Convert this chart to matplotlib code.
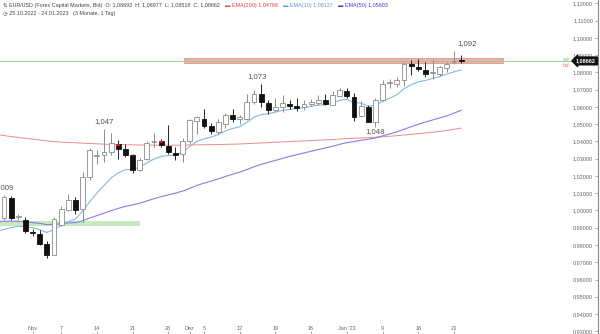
import numpy as np
import matplotlib
matplotlib.use("Agg")
import matplotlib.pyplot as plt
from matplotlib.ticker import FixedLocator, FuncFormatter

plt.rcParams['font.family'] = ['Liberation Sans', 'DejaVu Sans']

# daily candles 25.10.2022 - 24.01.2023 (trading days only)
opens = [0.9876, 0.9958, 1.0075, 0.9962, 0.9947, 0.9877, 0.9862, 0.9804, 0.9744, 0.9914,
         1.0005, 1.0063, 1.0010, 1.0194, 1.0318, 1.0319, 1.0338, 1.0387, 1.0354, 1.0319,
         1.0232, 1.0300, 1.0397, 1.0400, 1.0371, 1.0335, 1.0325, 1.0400, 1.0518, 1.0532,
         1.0487, 1.0454, 1.0503, 1.0551, 1.0532, 1.0532, 1.0628, 1.0677, 1.0622, 1.0584,
         1.0600, 1.0619, 1.0605, 1.0599, 1.0615, 1.0622, 1.0638, 1.0612, 1.0665, 1.0690,
         1.0657, 1.0545, 1.0599, 1.0512, 1.0638, 1.0738, 1.0735, 1.0758, 1.0847, 1.0829,
         1.0816, 1.0795, 1.0789, 1.0825, 1.0860, 1.08693]
highs = [0.9976, 1.0088, 1.0085, 0.9978, 0.9962, 0.9895, 0.9885, 0.9823, 0.9962, 1.0024,
         1.0093, 1.0078, 1.0223, 1.0362, 1.0348, 1.0474, 1.0447, 1.0406, 1.0387, 1.0329,
         1.0306, 1.0400, 1.0450, 1.0416, 1.0497, 1.0370, 1.0418, 1.0532, 1.0545, 1.0590,
         1.0505, 1.0530, 1.0565, 1.0590, 1.0555, 1.0677, 1.0695, 1.0731, 1.0640, 1.0650,
         1.0666, 1.0637, 1.0654, 1.0640, 1.0645, 1.0670, 1.0672, 1.0690, 1.0712, 1.0710,
         1.0680, 1.0635, 1.0610, 1.0650, 1.0758, 1.0760, 1.0775, 1.0860, 1.0870, 1.0875,
         1.0860, 1.0873, 1.0835, 1.0860, 1.0924, 1.08977]
lows = [0.9851, 0.9945, 0.9947, 0.9943, 0.9869, 0.9850, 0.9798, 0.9727, 0.9740, 0.9908,
        0.9997, 0.9978, 0.9935, 1.0175, 1.0271, 1.0281, 1.0319, 1.0300, 1.0310, 1.0217,
        1.0226, 1.0290, 1.0365, 1.0368, 1.0325, 1.0290, 1.0281, 1.0387, 1.0444, 1.0480,
        1.0443, 1.0445, 1.0480, 1.0510, 1.0500, 1.0525, 1.0618, 1.0600, 1.0560, 1.0571,
        1.0570, 1.0590, 1.0576, 1.0580, 1.0605, 1.0610, 1.0610, 1.0608, 1.0656, 1.0650,
        1.0520, 1.0540, 1.0512, 1.0482, 1.0635, 1.0710, 1.0715, 1.0720, 1.0783, 1.0810,
        1.0773, 1.0764, 1.0780, 1.0802, 1.0850, 1.08518]
closes = [0.9963, 1.0078, 0.9955, 0.9966, 0.9879, 0.9869, 0.9808, 0.9744, 0.9949, 1.0010,
          1.0063, 1.0005, 1.0195, 1.0348, 1.0322, 1.0339, 1.0390, 1.0358, 1.0319, 1.0232,
          1.0294, 1.0391, 1.0405, 1.0381, 1.0338, 1.0319, 1.0400, 1.0522, 1.0541, 1.0487,
          1.0460, 1.0512, 1.0551, 1.0532, 1.0540, 1.0628, 1.0677, 1.0628, 1.0584, 1.0599,
          1.0622, 1.0607, 1.0595, 1.0619, 1.0628, 1.0642, 1.0615, 1.0667, 1.0696, 1.0663,
          1.0541, 1.0605, 1.0512, 1.0638, 1.0735, 1.0743, 1.0758, 1.0851, 1.0835, 1.0820,
          1.0793, 1.0800, 1.0831, 1.0851, 1.0866, 1.08662]
flagged = [17, 23]  # candles marked red

ema200 = [1.0440, 1.0434, 1.0428, 1.0423, 1.0418, 1.0413, 1.0408, 1.0403, 1.0399, 1.0396,
          1.0394, 1.0392, 1.0390, 1.0388, 1.0386, 1.0384, 1.0383, 1.0382, 1.0381, 1.0380,
          1.0379, 1.0379, 1.0378, 1.0378, 1.0378, 1.0378, 1.0378, 1.0379, 1.0380, 1.0381,
          1.0381, 1.0382, 1.0383, 1.0384, 1.0385, 1.0387, 1.0389, 1.0391, 1.0393, 1.0395,
          1.0397, 1.0399, 1.0401, 1.0403, 1.0405, 1.0407, 1.0409, 1.0411, 1.0414, 1.0416,
          1.0418, 1.0420, 1.0422, 1.0424, 1.0427, 1.0430, 1.0433, 1.0437, 1.0441, 1.0445,
          1.0449, 1.0453, 1.0458, 1.0463, 1.0470, 1.0477]
ema10 = [0.9880, 0.9890, 0.9900, 0.9908, 0.9905, 0.9900, 0.9888, 0.9873, 0.9888, 0.9912,
         0.9936, 0.9950, 0.9995, 1.0050, 1.0100, 1.0145, 1.0188, 1.0218, 1.0236, 1.0238,
         1.0250, 1.0275, 1.0298, 1.0313, 1.0318, 1.0320, 1.0337, 1.0370, 1.0400, 1.0415,
         1.0425, 1.0440, 1.0460, 1.0475, 1.0485, 1.0510, 1.0540, 1.0555, 1.0560, 1.0570,
         1.0580, 1.0585, 1.0590, 1.0596, 1.0603, 1.0610, 1.0612, 1.0622, 1.0638, 1.0643,
         1.0625, 1.0622, 1.0603, 1.0610, 1.0632, 1.0650, 1.0670, 1.0705, 1.0728, 1.0745,
         1.0753, 1.0765, 1.0775, 1.0790, 1.0803, 1.0814]
ema50 = [0.9935, 0.9937, 0.9938, 0.9937, 0.9934, 0.9930, 0.9925, 0.9918, 0.9920, 0.9923,
         0.9928, 0.9930, 0.9940, 0.9956, 0.9970, 0.9984, 0.9999, 1.0012, 1.0024, 1.0032,
         1.0042, 1.0055, 1.0068, 1.0080, 1.0090, 1.0100, 1.0112, 1.0128, 1.0145, 1.0158,
         1.0170, 1.0183, 1.0197, 1.0210, 1.0222, 1.0237, 1.0253, 1.0267, 1.0279, 1.0290,
         1.0302, 1.0313, 1.0323, 1.0333, 1.0343, 1.0353, 1.0362, 1.0372, 1.0383, 1.0393,
         1.0399, 1.0407, 1.0412, 1.0420, 1.0432, 1.0443, 1.0455, 1.0470, 1.0485, 1.0499,
         1.0512, 1.0524, 1.0536, 1.0548, 1.0564, 1.0580]

tick_pos = [5, 9, 14, 19, 24, 27, 29, 34, 39, 44, 49, 54, 59, 64]
tick_labels = ['Nov', '7', '14', '21', '28', 'Dez', '5', '12', '19', '26',
               "Jan '23", '9', '16', '23']
y_ticks = [0.93, 0.94, 0.95, 0.96, 0.97, 0.98, 0.99, 1.00, 1.01, 1.02,
           1.03, 1.04, 1.05, 1.06, 1.07, 1.08, 1.09, 1.10, 1.11, 1.12]

# swing labels: candle index, text, at high or low, x shift in px
swings = [(1, '1,009', 'high', 0), (15, '1,047', 'high', 0), (37, '1,073', 'high', -4),
          (53, '1,048', 'low', 0), (64, '1,092', 'high', 13)]

resist_zone = (1.0856, 1.0886, 26.2, 70.8)
support_zone = (0.9908, 0.9939, 0.0, 20.1)
ask_price = 1.08675
last_price = 1.08662

header_parts = [('\u21c5 EUR/USD (Forex Capital Markets, Bid)  O: 1,08693  H: 1,08977  '
                 'L: 1,08518  C: 1,08662', '#444444'),
                ('\u25ac EMA(200) 1,04768', '#e0453f'),
                ('\u25ac EMA(10) 1,08137', '#5b9bd5'),
                ('\u25ac EMA(50) 1,05803', '#3f3fc0')]

fig = plt.figure(figsize=(6, 3.34), dpi=100)
ax = fig.add_axes([0, 0, 598 / 600, 1])
ax.set_xlim(0.45, 84.16)
ax.set_ylim(0.92844, 1.12191)

x = np.arange(len(closes))
o = np.array(opens)
c = np.array(closes)
up = c >= o

# zones
ax.fill_between([resist_zone[2], resist_zone[3]], resist_zone[0], resist_zone[1],
                color='#eda29c', alpha=0.85, lw=0.6, edgecolor='#dc8c86', zorder=1)
ax.fill_between([support_zone[2], support_zone[3]], support_zone[0], support_zone[1],
                color='#bfe8b8', alpha=0.9, lw=0, zorder=1)
ax.axhline(ask_price, xmax=0.958, color='#98d08c', lw=0.7, zorder=1)

# moving averages
ax.plot(x, ema200, color='#f08a8a', lw=0.7, zorder=2)
ax.plot(x, ema50, color='#8a7be6', lw=0.8, zorder=2)
ax.plot(x, ema10, color='#86b8e4', lw=0.8, zorder=2)

# candles
wick_col = np.where(up, '#8c8c8c', '#222222')
ax.vlines(x, lows, highs, colors=wick_col, lw=0.7, zorder=3)
ax.bar(x[up], c[up] - o[up], bottom=o[up], width=0.68,
       color='white', edgecolor='#8c8c8c', lw=0.6, zorder=4)
ax.bar(x[~up], o[~up] - c[~up], bottom=c[~up], width=0.68,
       color='#111111', edgecolor='#111111', lw=0.6, zorder=4)
for i in flagged:
    ax.bar(i, (o[i] - c[i]) * 0.5, bottom=c[i] + (o[i] - c[i]) * 0.5, width=0.5,
           color='#d21c1c', lw=0, zorder=5)

# swing labels
for i, txt, side, dx in swings:
    if side == 'high':
        ax.annotate(txt, (i, highs[i]), xytext=(dx, 4), textcoords='offset pixels',
                    ha='center', va='bottom', fontsize=5.6, color='#555555')
    else:
        ax.annotate(txt, (i, lows[i]), xytext=(dx, -1), textcoords='offset pixels',
                    ha='center', va='top', fontsize=5.6, color='#555555')

# axes styling
for s in ['top', 'left', 'bottom']:
    ax.spines[s].set_visible(False)
ax.spines['right'].set_color('#8a8a8a')
ax.spines['right'].set_linewidth(0.8)

ax.yaxis.tick_right()
ax.yaxis.set_major_locator(FixedLocator(y_ticks))
ax.yaxis.set_major_formatter(FuncFormatter(lambda v, p: f'{v:.5f}'.replace('.', ',')))
ax.tick_params(axis='y', direction='in', length=2, width=0.5, color='#888888',
               pad=-3.6, labelsize=4, labelcolor='#666666')
for lab in ax.get_yticklabels():
    lab.set_ha('right')

ax.xaxis.set_major_locator(FixedLocator(tick_pos))
ax.set_xticklabels(tick_labels)
ax.tick_params(axis='x', direction='in', length=2, width=0.5, color='#888888',
               pad=-5.4, labelsize=4, labelcolor='#666666')

# last price tag + ask/bid
ax.text(0.9635, last_price, '1,08662', transform=ax.get_yaxis_transform(),
        ha='left', va='center', fontsize=4, color='white', fontweight='bold',
        bbox=dict(boxstyle='larrow,pad=0.25', fc='#111111', ec='#111111'),
        zorder=10, clip_on=False)
ax.text(0.947, 1.0876, 'ask', transform=ax.get_yaxis_transform(), ha='center',
        va='center', fontsize=3.4, color='#7cc070')
ax.text(0.947, 1.0838, 'bid', transform=ax.get_yaxis_transform(), ha='center',
        va='center', fontsize=3.4, color='#e07070')

# header, pieces placed one after another
renderer = fig.canvas.get_renderer()
hx = 3
for txt, col in header_parts:
    t = fig.text(hx / 600, 1 - 6 / 334, txt, fontsize=3.9, color=col, va='center')
    hx = t.get_window_extent(renderer).x1 + 5
fig.text(3 / 600, 1 - 14 / 334, '\u25f7 25.10.2022 - 24.01.2023   (3 Monate, 1 Tag)',
         fontsize=3.9, color='#444444', va='center')

fig.savefig('out.png', dpi=100)
